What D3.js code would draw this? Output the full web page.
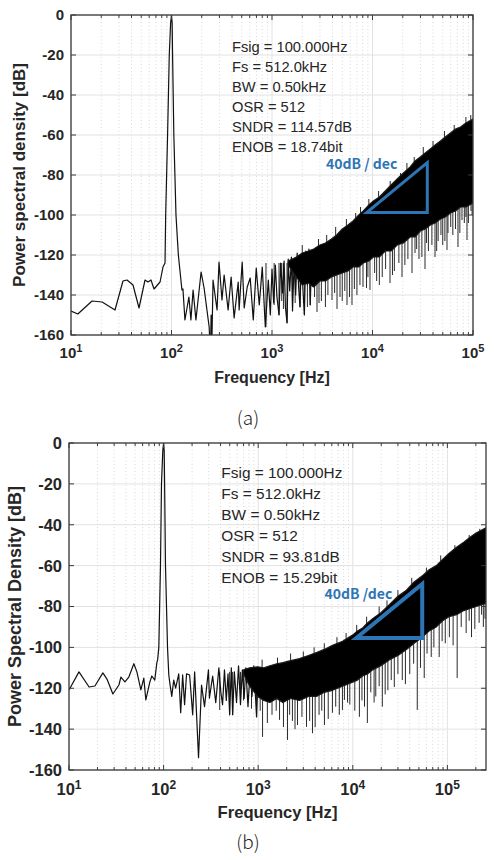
<!DOCTYPE html>
<html>
<head>
<meta charset="utf-8">
<script src="https://cdn.jsdelivr.net/npm/d3@7"></script>
<style>
  body { margin: 0; background: #fff; }
  svg { display: block; font-family: "Liberation Sans", Arial, sans-serif; }
</style>
</head>
<body>
<svg id="chart" width="494" height="860"></svg>
<script>
// ---------- values ----------
var yTicks = [0, -20, -40, -60, -80, -100, -120, -140, -160];

// panel (a)
var xExpA = [1, 2, 3, 4, 5];
// [Hz, dB] traced line: tone, low band and the sparse part of the noise floor
var traceA = [[10,-148],[11.7,-149.5],[16.2,-143],[20.4,-143.5],[27.4,-147.5],[32.9,-133],[36.1,-132.5],
  [41.4,-135],[47.5,-146.5],[54.5,-132.5],[58.4,-133.5],[62.5,-132.5],[67,-137],[76.9,-133.5],[82.3,-126],
  [86.2,-124],[87.5,-100],[91.4,-60],[95,-20],[98,-4],[100,0],[101.5,-4],[102.5,-20],[105.5,-60],[110.8,-100],
  [117,-120],[127,-137.5],[130,-137],[136,-152.5],[149,-141],[156,-152.5],[164,-137.5],[175,-152.5],[197,-128.5],
  [211,-136.5],[237,-156],[244,-170],[248,-150],[251,-170],[259,-132.5],[284,-147.5],[297,-123.5],[318,-142.5],
  [334,-130],[366,-147.5],[392,-131],[420,-151.5],[461,-133.5],[471,-147.5],[505,-123.5],[529,-146.5],[567,-136],
  [607,-131.5],[651,-152.5],[697,-126.5],[747,-145],[800,-126],[858,-156],[919,-132.5],[962,-150],[1000,-127],
  [1040,-144],[1080,-125],[1120,-141],[1174,-150],[1220,-124],[1270,-139],[1320,-123],[1360,-146],[1411,-154],
  [1450,-122],[1500,-138],[1560,-121],[1600,-148],[1660,-124],[1720,-140],[1780,-119],[1840,-136],[1900,-146],
  [1960,-120],[2030,-137],[2100,-150],[2170,-118],[2250,-135],[2330,-117],[2400,-145],[2480,-121],[2560,-136]];
// [Hz, top dB, bottom dB] of the dense noise body
var bandA = [[1450,-123,-125],[1750,-121,-131],[2000,-119,-135],[2300,-118,-134],
  [2600,-117,-136],[3000,-115,-133],[3400,-114,-133],[3900,-112,-131],[4400,-110,-130],[5000,-107,-129],
  [5700,-105,-128],[6400,-103,-126],[7300,-100,-126],[8100,-98,-124],[9200,-95,-123],[10200,-93,-121],
  [11700,-91,-121],[13400,-88,-118],[15300,-85,-118],[17600,-82,-115],[20300,-79,-114],[23700,-76,-111],
  [26500,-73,-111],[29900,-71,-108],[33500,-69,-107],[37600,-67,-105],[42000,-65,-104],[47400,-63,-102],
  [53000,-61,-101],[59700,-59,-99],[67000,-57,-98],[75200,-56,-96],[85000,-54,-96],[100000,-52,-94]];
// [Hz, tip dB] of single spikes leaving the body
var spikesA = [[871,-156],[1050,-145],[1174,-150],[1250,-143],[1300,-147],[1411,-154],[1600,-148],[1700,-144],
  [1900,-146],[2100,-150],[2250,-146],[2400,-145],[2650,-141],[2804,-148.5],[2936,-144],[3100,-143],[3400,-146],
  [3600,-140],[3954,-142.5],[4200,-139],[4436,-147],[4750,-141],[5000,-143],[5300,-138],[5576,-145],[5900,-141],
  [6252,-145],[6600,-137],[7000,-140],[7500,-135],[8045,-136],[8714,-136.5],[9000,-131],[9443,-137.5],
  [10500,-129],[11000,-133],[11700,-135],[12500,-131],[13500,-127],[14935,-134],[15800,-130],[16500,-128],
  [18300,-124],[19660,-131],[21000,-125],[22500,-122],[24720,-129],[26480,-119],[27500,-117],[29000,-122],
  [31000,-121],[33300,-127],[34500,-114],[36000,-118],[39000,-115],[41870,-121],[43500,-118],[45000,-113],
  [48000,-110],[50000,-115],[52500,-113],[55110,-117.5],[56380,-109],[60000,-106],[63000,-110],[67000,-107],
  [70910,-116],[74000,-109],[77700,-102.5],[82000,-104],[85000,-101],[87150,-112.5],[90000,-104],[93350,-95],
  [95500,-98],[98000,-100],
  [2000,-115],[2900,-112],[3500,-110],[4300,-106],[5500,-102],[6800,-99],[7600,-96],[9200,-92],[11500,-88],
  [15000,-83],[19000,-79],[22000,-74],[26000,-71],[32000,-66],[40000,-63],[52000,-58],[65000,-55],[85000,-51],
  [95000,-50]];
var infoA = ["Fsig = 100.000Hz", "Fs = 512.0kHz", "BW = 0.50kHz", "OSR = 512", "SNDR = 114.57dB", "ENOB = 18.74bit"];
var slopeA = [[8750,-98.8],[35100,-98.8],[35100,-73.8]];

// panel (b)
var xExpB = [1, 2, 3, 4, 5];
var traceB = [[10,-120.8],[12.75,-112],[16.3,-119.4],[18.8,-118.9],[22.8,-112.5],[25.2,-115.5],[29.1,-122.8],
  [33.7,-118.4],[35.4,-114.5],[39,-116.9],[42.9,-114.5],[48.5,-108],[52.2,-112],[57.5,-120.8],[61.8,-115],
  [64.9,-125.7],[71.5,-117],[75.1,-114],[80.7,-116],[84.8,-107.6],[86.5,-106],[89,-100],[92.7,-60],[95,-20],
  [98,-4],[100,0],[101.5,-4],[102.5,-20],[104.7,-60],[110,-100],[113.5,-113.5],[116.3,-117.4],[122,-124],
  [127.9,-116],[134.1,-119.9],[144.6,-113],[151.6,-132],[159,-113.5],[166.7,-128],[174.8,-113],[188.4,-113.5],
  [203,-133],[212.9,-112],[234,-154],[251.9,-118.4],[270.8,-129],[298,-111],[305,-124.8],[330,-114],[356,-127],
  [384,-110],[403,-122],[420,-128],[440,-111],[460,-126],[480,-113],[499,-133],[520,-110],[537,-133],[560,-112],
  [590,-127],[620,-109],[650,-128],[680,-111],[710,-125],[740,-110],[780,-129],[820,-112],[860,-124],[900,-109],
  [961,-134],[1000,-113]];
var bandB = [[700,-111,-113],[815,-110,-119],[985,-109.5,-124],[1150,-110,-126],[1330,-109,-127],[1570,-108,-125],
  [1820,-107.5,-127],[2200,-106.5,-125],[2735,-105.5,-126],[3400,-104,-124],[4130,-102.5,-124],[5000,-101,-122],
  [6100,-99,-121],[7790,-97,-119],[9950,-94,-117],[11200,-92,-116],[12700,-90.5,-114],[14300,-88,-113],
  [16200,-86,-111],[19800,-83,-109],[24500,-79,-106],[30000,-75,-104],[36900,-72,-101],[44500,-68,-98],
  [54400,-65,-95],[64000,-62,-92],[76300,-60,-90],[89000,-57,-87],[104000,-54,-85],[125000,-51,-84],
  [149000,-48.5,-82],[175000,-46,-81],[201000,-44,-80],[256000,-41.5,-78.5]];
var spikesB = [[392,-130.6],[499,-133],[537,-133],[650,-128],[700,-126],[850,-130],[961,-134],[1050,-131],
  [1112,-143.8],[1250,-137],[1400,-133],[1550,-131],[1682,-135.5],[1850,-139],[2042,-145.3],[2150,-133],
  [2300,-136],[2450,-140],[2604,-138],[2900,-134],[3240,-138.9],[3500,-136],[3748,-142],[4000,-139],[4400,-133],
  [4700,-131],[5015,-138],[5500,-135],[6092,-132],[6600,-129],[7200,-133],[7771,-130.6],[8155,-125.7],[8800,-127],
  [9300,-128],[10500,-131],[11740,-134],[12500,-126],[13300,-129],[14260,-137],[15500,-122],[16800,-127],
  [17500,-124],[19000,-119],[20520,-129],[22000,-123],[23500,-121],[25500,-116],[27470,-119.4],[30000,-113],
  [33370,-116],[36000,-118],[40000,-113],[44000,-108],[48030,-130.6],[52000,-110],[56920,-115],[61000,-103],
  [67480,-104.7],[72000,-100],[81930,-104.7],[88000,-97],[95000,-98],[105000,-95],[115000,-99],[126900,-115],
  [140000,-90],[157900,-93],[170000,-87],[180000,-95],[195000,-91],[216500,-88],[230000,-84],[240000,-90],
  [250000,-86],
  [1100,-106],[1600,-105],[2200,-103],[3000,-102],[3900,-100],[5000,-98],[6800,-95],[8500,-93],[11000,-89],
  [14000,-85],[19000,-80],[23000,-77],[30000,-72],[42000,-66],[60000,-61],[85000,-55],[120000,-50],[170000,-45],
  [220000,-42]];
var infoB = ["Fsig = 100.000Hz", "Fs = 512.0kHz", "BW = 0.50kHz", "OSR = 512", "SNDR = 93.81dB", "ENOB = 15.29bit"];
var slopeB = [[10900,-95.4],[54200,-95.4],[54200,-69]];

var panels = [
  { id: 'a', left: 71, right: 473, top: 15, bottom: 335, xDomain: [10, 1e5], xExp: xExpA,
    trace: traceA, band: bandA, spikes: spikesA, info: infoA, infoAt: [400, -18.4], infoGap: 20, infoSize: 14.7,
    slope: slopeA, slopeW: 3, slopeText: '40dB / dec', slopeTextAt: [3445, -77], slopeSize: 14,
    tickSize: 15, supSize: 11, tickBase: 23, labelSize: 16, ylabSize: 17, ylabX: 25,
    xlab: 'Frequency [Hz]', xlabY: 383, ylab: 'Power spectral density [dB]', cap: '(a)', capY: 425 },
  { id: 'b', left: 69, right: 486, top: 443, bottom: 770, xDomain: [10, 256000], xExp: xExpB,
    trace: traceB, band: bandB, spikes: spikesB, info: infoB, infoAt: [408, -17.3], infoGap: 20.9, infoSize: 15.4,
    slope: slopeB, slopeW: 4, slopeText: '40dB /dec', slopeTextAt: [5010, -76.3], slopeSize: 14,
    tickSize: 16.5, supSize: 12, tickBase: 25, labelSize: 16.6, ylabSize: 18, ylabX: 21,
    xlab: 'Frequency [Hz]', xlabY: 818, ylab: 'Power Spectral Density [dB]', cap: '(b)', capY: 849 }
];

var svg = d3.select('#chart');
var axisColor = '#3a3a3a';

function drawPanel(p) {
  var x = d3.scaleLog().domain(p.xDomain).range([p.left, p.right]);
  var y = d3.scaleLinear().domain([-160, 0]).range([p.bottom, p.top]);
  var g = svg.append('g');

  g.append('clipPath').attr('id', 'clip' + p.id)
    .append('rect')
    .attr('x', p.left).attr('y', p.top)
    .attr('width', p.right - p.left).attr('height', p.bottom - p.top);

  var majors = p.xExp.map(function(e) { return Math.pow(10, e); })
    .filter(function(f) { return f <= p.xDomain[1]; });
  var minors = [];
  p.xExp.forEach(function(e) {
    for (var k = 2; k <= 9; k++) {
      var f = k * Math.pow(10, e);
      if (f < p.xDomain[1]) minors.push(f);
    }
  });

  // grid
  var grid = g.append('g');
  grid.selectAll('line.minor').data(minors).enter().append('line')
    .attr('x1', function(d) { return x(d); }).attr('x2', function(d) { return x(d); })
    .attr('y1', p.top).attr('y2', p.bottom)
    .style('stroke', '#cfcfcf').style('stroke-width', 0.8).style('stroke-dasharray', '1,2.5');
  grid.selectAll('line.vmaj').data(majors).enter().append('line')
    .attr('x1', function(d) { return x(d); }).attr('x2', function(d) { return x(d); })
    .attr('y1', p.top).attr('y2', p.bottom)
    .style('stroke', '#e2e2e2').style('stroke-width', 1);
  grid.selectAll('line.hmaj').data(yTicks).enter().append('line')
    .attr('x1', p.left).attr('x2', p.right)
    .attr('y1', function(d) { return y(d); }).attr('y2', function(d) { return y(d); })
    .style('stroke', '#e2e2e2').style('stroke-width', 1);

  // data
  var data = g.append('g').attr('clip-path', 'url(#clip' + p.id + ')');

  var bis = d3.bisector(function(d) { return d[0]; }).left;
  function baseAt(f) {
    var i = Math.min(p.band.length - 1, bis(p.band, f));
    return (p.band[i][1] + p.band[i][2]) / 2;
  }
  data.selectAll('line.spike').data(p.spikes).enter().append('line')
    .attr('x1', function(d) { return x(d[0]); }).attr('x2', function(d) { return x(d[0]); })
    .attr('y1', function(d) { return y(d[1]); })
    .attr('y2', function(d) { return y(baseAt(d[0])); })
    .style('stroke', '#2a2a2a').style('stroke-width', 1);

  var line = d3.line()
    .x(function(d) { return x(d[0]); })
    .y(function(d) { return y(d[1]); });
  data.append('path').datum(p.trace)
    .attr('d', line)
    .style('fill', 'none').style('stroke', '#111').style('stroke-width', 1.2)
    .style('stroke-linejoin', 'round');

  var area = d3.area()
    .x(function(d) { return x(d[0]); })
    .y0(function(d) { return y(d[2]); })
    .y1(function(d) { return y(d[1]); });
  data.append('path').datum(p.band)
    .attr('d', area)
    .style('fill', '#000').style('stroke', '#1a1a1a').style('stroke-width', 1.2)
    .style('stroke-linejoin', 'round');

  // slope triangle
  data.append('path').datum(p.slope)
    .attr('d', d3.line()
      .x(function(d) { return x(d[0]); })
      .y(function(d) { return y(d[1]); })
      .curve(d3.curveLinearClosed))
    .style('fill', 'none').style('stroke', '#2e75b6').style('stroke-width', p.slopeW)
    .style('stroke-linejoin', 'miter');
  g.append('text')
    .attr('x', x(p.slopeTextAt[0])).attr('y', y(p.slopeTextAt[1]))
    .style('font-family', '"Noto Sans CJK KR", "Noto Sans", sans-serif')
    .style('font-weight', 'bold').style('font-size', p.slopeSize + 'px')
    .style('fill', '#2e75b6')
    .text(p.slopeText);

  // info text
  g.selectAll('text.info').data(p.info).enter().append('text')
    .attr('x', x(p.infoAt[0]))
    .attr('y', function(d, i) { return y(p.infoAt[1]) + i * p.infoGap; })
    .style('font-size', p.infoSize + 'px').style('fill', '#262626')
    .text(function(d) { return d; });

  // box
  g.append('rect')
    .attr('x', p.left).attr('y', p.top)
    .attr('width', p.right - p.left).attr('height', p.bottom - p.top)
    .style('fill', 'none').style('stroke', axisColor).style('stroke-width', 1.3);

  // ticks, inside on all sides
  var ticks = g.append('g').style('stroke', axisColor).style('stroke-width', 1);
  [[p.bottom, -1], [p.top, 1]].forEach(function(s) {
    ticks.selectAll(null).data(majors).enter().append('line')
      .attr('x1', function(d) { return x(d); }).attr('x2', function(d) { return x(d); })
      .attr('y1', s[0]).attr('y2', s[0] + s[1] * 5);
    ticks.selectAll(null).data(minors).enter().append('line')
      .attr('x1', function(d) { return x(d); }).attr('x2', function(d) { return x(d); })
      .attr('y1', s[0]).attr('y2', s[0] + s[1] * 3);
  });
  [[p.left, 1], [p.right, -1]].forEach(function(s) {
    ticks.selectAll(null).data(yTicks).enter().append('line')
      .attr('y1', function(d) { return y(d); }).attr('y2', function(d) { return y(d); })
      .attr('x1', s[0]).attr('x2', s[0] + s[1] * 5);
  });

  // tick labels
  g.selectAll('text.ytick').data(yTicks).enter().append('text')
    .attr('x', p.left - 7).attr('y', function(d) { return y(d); })
    .attr('dy', '0.36em').attr('text-anchor', 'end')
    .style('font-size', p.tickSize + 'px').style('font-weight', 'bold').style('fill', '#262626')
    .text(function(d) { return d; });

  var xl = g.selectAll('text.xtick').data(p.xExp).enter().append('text')
    .attr('x', function(d) { return x(Math.pow(10, d)); })
    .attr('y', p.bottom + p.tickBase)
    .attr('text-anchor', 'middle')
    .style('font-size', p.tickSize + 'px').style('font-weight', 'bold').style('fill', '#262626');
  xl.append('tspan').text('10');
  xl.append('tspan').attr('dy', -6).style('font-size', p.supSize + 'px')
    .text(function(d) { return d; });

  // axis labels
  g.append('text')
    .attr('x', (p.left + p.right) / 2).attr('y', p.xlabY)
    .attr('text-anchor', 'middle')
    .style('font-size', p.labelSize + 'px').style('font-weight', 'bold').style('fill', '#262626')
    .text(p.xlab);
  g.append('text')
    .attr('transform', 'translate(' + p.ylabX + ',' + ((p.top + p.bottom) / 2) + ') rotate(-90)')
    .attr('text-anchor', 'middle')
    .style('font-size', p.ylabSize + 'px').style('font-weight', 'bold').style('fill', '#262626')
    .text(p.ylab);

  g.append('text')
    .attr('x', 248).attr('y', p.capY)
    .attr('text-anchor', 'middle')
    .style('font-family', '"Noto Sans CJK KR", "Noto Sans", sans-serif')
    .style('font-weight', 300).style('font-size', '19px').style('fill', '#222')
    .text(p.cap);
}

panels.forEach(drawPanel);
</script>
</body>
</html>
